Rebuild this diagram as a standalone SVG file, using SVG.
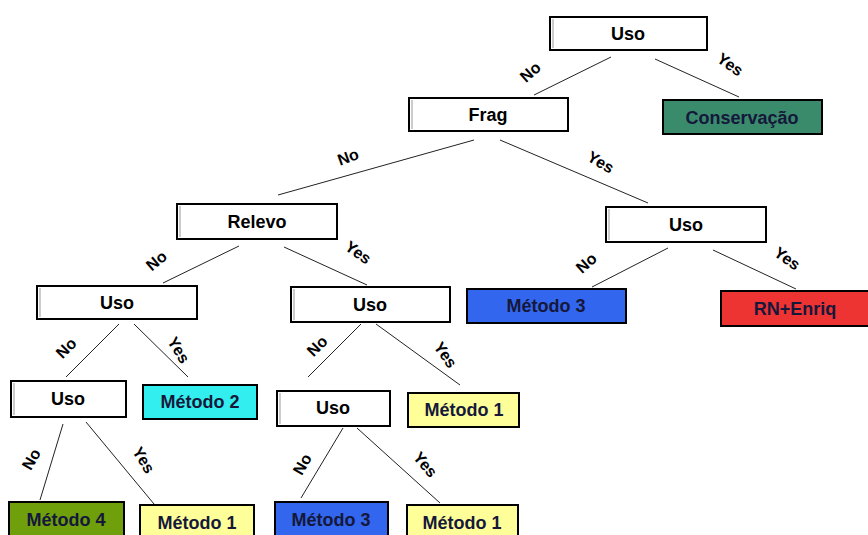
<svg xmlns="http://www.w3.org/2000/svg" width="868" height="535" viewBox="0 0 868 535">
<style>
.box{stroke:#000;stroke-width:2}
.w{fill:#fff}
.in{fill:none;stroke:#999;stroke-width:1}
.t{font-family:"Liberation Sans",Arial,sans-serif;font-weight:bold;font-size:18px;text-anchor:middle;fill:#000}
.tc{fill:#15183a}
.lb{font-family:"Liberation Sans",Arial,sans-serif;font-weight:bold;font-size:16px;text-anchor:middle;fill:#000}
.c line{stroke:#222;stroke-width:1}
</style>
<rect width="868" height="535" fill="#fff"/>
<g class="c" id="connectors">
<line x1="611" y1="57" x2="534" y2="95"/>
<line x1="655" y1="59" x2="739" y2="97"/>
<line x1="474" y1="140" x2="278" y2="195"/>
<line x1="500" y1="140" x2="648" y2="203"/>
<line x1="668" y1="248" x2="592" y2="287"/>
<line x1="713" y1="250" x2="796" y2="289"/>
<line x1="239" y1="246" x2="163" y2="283"/>
<line x1="284" y1="247" x2="367" y2="285"/>
<line x1="119" y1="324" x2="66" y2="377"/>
<line x1="134" y1="324" x2="188" y2="377"/>
<line x1="361" y1="324" x2="308" y2="377"/>
<line x1="376" y1="324" x2="460" y2="385"/>
<line x1="63" y1="424" x2="40" y2="500"/>
<line x1="86" y1="422" x2="154" y2="504"/>
<line x1="343" y1="428" x2="301" y2="498"/>
<line x1="357" y1="428" x2="440" y2="503"/>
</g>
<g id="labels">
<text class="lb" transform="translate(534,76) rotate(-42)">No</text>
<text class="lb" transform="translate(727,69) rotate(35)">Yes</text>
<text class="lb" transform="translate(350,162) rotate(-20)">No</text>
<text class="lb" transform="translate(598,167) rotate(30)">Yes</text>
<text class="lb" transform="translate(590,267) rotate(-42)">No</text>
<text class="lb" transform="translate(784,263) rotate(35)">Yes</text>
<text class="lb" transform="translate(160,265) rotate(-40)">No</text>
<text class="lb" transform="translate(355,257) rotate(35)">Yes</text>
<text class="lb" transform="translate(70,352) rotate(-45)">No</text>
<text class="lb" transform="translate(174,353) rotate(58)">Yes</text>
<text class="lb" transform="translate(321,350) rotate(-45)">No</text>
<text class="lb" transform="translate(441,358) rotate(55)">Yes</text>
<text class="lb" transform="translate(36,462) rotate(-60)">No</text>
<text class="lb" transform="translate(139,463) rotate(58)">Yes</text>
<text class="lb" transform="translate(307,467) rotate(-60)">No</text>
<text class="lb" transform="translate(421,468) rotate(50)">Yes</text>
</g>
<g id="n_uso_root"><rect class="box w" x="550" y="17" width="157" height="33"/><line class="in" x1="553" y1="19" x2="553" y2="48"/><text class="t" x="628" y="40">Uso</text></g>
<g id="n_frag"><rect class="box w" x="409" y="98" width="159" height="33"/><line class="in" x1="412" y1="100" x2="412" y2="129"/><text class="t" x="488" y="121">Frag</text></g>
<g id="n_conservacao"><rect class="box" fill="#3a8a6c" x="663" y="100" width="159" height="34"/><text class="t tc" x="742" y="124">Conservação</text></g>
<g id="n_relevo"><rect class="box w" x="177" y="204" width="160" height="35"/><line class="in" x1="180" y1="206" x2="180" y2="237"/><text class="t" x="257" y="228">Relevo</text></g>
<g id="n_uso_r"><rect class="box w" x="606" y="207" width="160" height="35"/><line class="in" x1="609" y1="209" x2="609" y2="240"/><text class="t" x="686" y="231">Uso</text></g>
<g id="n_metodo3_r"><rect class="box" fill="#3366ee" stroke="#2a3f90" x="467" y="289" width="159" height="34"/><text class="t tc" x="546" y="312">Método 3</text></g>
<g id="n_rnenriq"><rect class="box" fill="#ee3333" x="721" y="291" width="150" height="35"/><text class="t tc" x="795" y="315">RN+Enriq</text></g>
<g id="n_uso_l"><rect class="box w" x="37" y="286" width="160" height="33"/><line class="in" x1="40" y1="288" x2="40" y2="317"/><text class="t" x="117" y="309">Uso</text></g>
<g id="n_uso_m"><rect class="box w" x="291" y="287" width="159" height="35"/><line class="in" x1="294" y1="289" x2="294" y2="320"/><text class="t" x="370" y="311">Uso</text></g>
<g id="n_uso_ll"><rect class="box w" x="11" y="381" width="115" height="36"/><line class="in" x1="14" y1="383" x2="14" y2="415"/><text class="t" x="68" y="405">Uso</text></g>
<g id="n_metodo2"><rect class="box" fill="#33eeee" x="143" y="385" width="114" height="34"/><text class="t tc" x="200" y="408">Método 2</text></g>
<g id="n_uso_ml"><rect class="box w" x="277" y="391" width="113" height="35"/><line class="in" x1="280" y1="393" x2="280" y2="424"/><text class="t" x="333" y="414">Uso</text></g>
<g id="n_metodo1_m"><rect class="box" fill="#ffff99" x="408" y="393" width="111" height="34"/><text class="t tc" x="464" y="416">Método 1</text></g>
<g id="n_metodo4"><rect class="box" fill="#6f9f0a" x="9" y="502" width="115" height="36"/><text class="t tc" x="66" y="526">Método 4</text></g>
<g id="n_metodo1_l"><rect class="box" fill="#ffff99" x="140" y="505" width="114" height="34"/><text class="t tc" x="197" y="529">Método 1</text></g>
<g id="n_metodo3_b"><rect class="box" fill="#3366ee" stroke="#2a3f90" x="275" y="502" width="113" height="36"/><text class="t tc" x="331" y="526">Método 3</text></g>
<g id="n_metodo1_b"><rect class="box" fill="#ffff99" x="407" y="505" width="111" height="34"/><text class="t tc" x="462" y="529">Método 1</text></g>
</svg>
